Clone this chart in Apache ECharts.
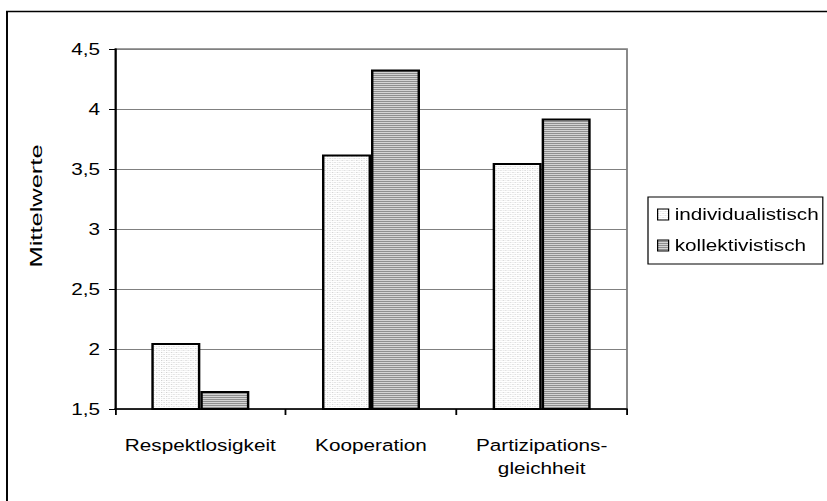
<!DOCTYPE html>
<html>
<head>
<meta charset="utf-8">
<script src="https://cdn.jsdelivr.net/npm/echarts@6/dist/echarts.min.js"></script>
<style>
  html, body { margin: 0; padding: 0; background: #fff; overflow: hidden; }
  #wrap { width: 827px; height: 501px; overflow: hidden; }
  #chart { height: 501px; transform-origin: 0 0; }
</style>
</head>
<body>
<div id="wrap"><div id="chart"></div></div>
<script>
// Mean ratings per dimension and group
const categories = ['Respektlosigkeit', 'Kooperation', 'Partizipations-\ngleichheit'];
const seriesNames = ['individualistisch', 'kollektivistisch'];
const individualistisch = [2.05, 3.62, 3.55];
const kollektivistisch = [1.65, 4.33, 3.92];
const yTicks = { min: 1.5, max: 4.5, step: 0.5 };
const yTitle = 'Mittelwerte';

// The whole drawing is laid out narrower and widened horizontally,
// which gives the broad lettering of the original office chart.
const SX = 1.22;
const W = 827 / SX, H = 501;
const el = document.getElementById('chart');
el.style.width = W + 'px';
el.style.transform = 'scaleX(' + SX + ')';

const FONT = '"Liberation Sans", Arial, Helvetica, sans-serif';
const FS = 17;

function tile(w, h, paint) {
  const c = document.createElement('canvas');
  c.width = w; c.height = h;
  const g = c.getContext('2d');
  paint(g);
  return c.toDataURL();
}
// fine dotted fill
const dotted = tile(4, 4, g => {
  g.fillStyle = '#ffffff'; g.fillRect(0, 0, 4, 4);
  g.fillStyle = '#cfcfcf'; g.fillRect(0, 0, 1, 1); g.fillRect(2, 2, 1, 1);
  g.fillStyle = '#e6e6e6'; g.fillRect(2, 0, 1, 1); g.fillRect(0, 2, 1, 1);
});
// horizontal stripes
const striped = tile(4, 2, g => {
  g.fillStyle = '#d4d4d4'; g.fillRect(0, 0, 4, 1);
  g.fillStyle = '#8f8f8f'; g.fillRect(0, 1, 4, 1);
});

const chart = echarts.init(el, null, { renderer: 'svg', width: W, height: H });

const gridLeft = 115 / SX, gridRight = W - 627 / SX;

chart.setOption({
  backgroundColor: '#ffffff',
  animation: false,
  textStyle: { fontFamily: FONT },
  grid: {
    left: gridLeft, right: gridRight, top: 49, bottom: H - 409,
    show: true, borderColor: '#808080', borderWidth: 1.5, backgroundColor: 'transparent'
  },
  legend: {
    orient: 'vertical',
    left: 648 / SX, top: 197,
    padding: [9, 4 / SX, 10, 9 / SX],
    itemGap: 14,
    itemWidth: 11 / SX, itemHeight: 11,
    icon: 'rect',
    borderColor: '#000', borderWidth: 1, borderRadius: 0,
    backgroundColor: '#fff',
    itemStyle: { borderColor: '#000', borderWidth: 1 },
    textStyle: { fontSize: FS, color: '#000', fontFamily: FONT, lineHeight: 17 },
    data: seriesNames
  },
  xAxis: {
    type: 'category',
    data: categories,
    axisLine: { lineStyle: { color: '#000', width: 1.5 } },
    axisTick: { show: true, length: 6, interval: 0, lineStyle: { color: '#000', width: 1.5 } },
    axisLabel: { fontSize: FS, color: '#000', margin: 24, lineHeight: 23.5, interval: 0, fontFamily: FONT },
    splitLine: { show: false }
  },
  yAxis: {
    type: 'value',
    min: yTicks.min, max: yTicks.max, interval: yTicks.step,
    axisLine: { show: true, lineStyle: { color: '#000', width: 1.5 } },
    axisTick: { show: true, length: 6 / SX, lineStyle: { color: '#000', width: 1 } },
    axisLabel: {
      fontSize: FS, color: '#000', margin: 15 / SX, fontFamily: FONT,
      formatter: v => String(v).replace('.', ',')
    },
    splitLine: { show: true, lineStyle: { color: '#808080', width: 1 } }
  },
  series: [
    {
      name: seriesNames[0], type: 'bar', data: individualistisch,
      barWidth: 49 / SX, barGap: '0%',
      itemStyle: { color: { image: dotted, repeat: 'repeat' }, borderColor: '#000', borderWidth: 2 }
    },
    {
      name: seriesNames[1], type: 'bar', data: kollektivistisch,
      barWidth: 49 / SX, barGap: '0%',
      itemStyle: { color: { image: striped, repeat: 'repeat' }, borderColor: '#000', borderWidth: 2 }
    }
  ],
  graphic: [
    {
      type: 'rect', silent: true, z: 100,
      shape: { x: 7 / SX, y: 11.5, width: 2000, height: 2000 },
      style: { fill: 'none', stroke: '#000', lineWidth: 1.6 }
    },
    {
      type: 'text', silent: true,
      x: 36 / SX, y: 206, rotation: Math.PI / 2,
      scaleX: 1.5, scaleY: 1 / SX,
      style: { text: yTitle, font: FS + 'px ' + FONT, fill: '#000', align: 'center', verticalAlign: 'middle' }
    }
  ]
});
</script>
</body>
</html>
